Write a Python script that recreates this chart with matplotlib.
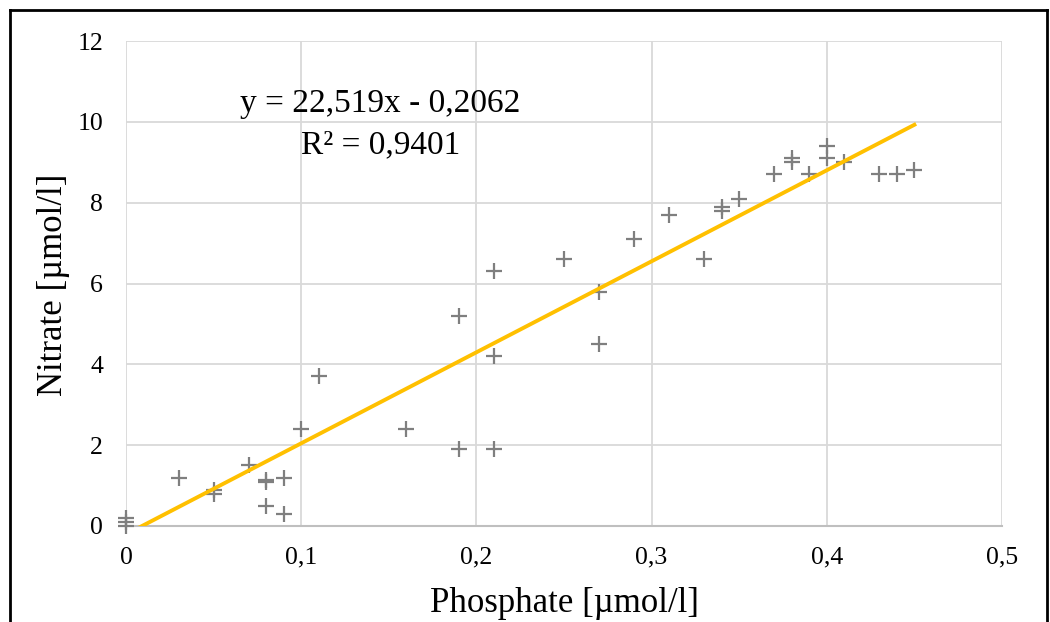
import matplotlib
matplotlib.use("Agg")
import matplotlib.pyplot as plt
from matplotlib.lines import Line2D
import numpy as np

# Data
phosphate = [0.0, 0.0, 0.0, 0.03, 0.05, 0.05, 0.07, 0.08, 0.08, 0.08, 0.09, 0.09,
             0.10, 0.11, 0.16, 0.19, 0.19, 0.21, 0.21, 0.21, 0.25, 0.27, 0.27,
             0.29, 0.31, 0.33, 0.34, 0.34, 0.35, 0.37, 0.38, 0.38, 0.39, 0.40,
             0.40, 0.41, 0.43, 0.44, 0.45]
nitrate = [0.0, 0.1, 0.2, 1.2, 0.9, 0.8, 1.5, 1.1, 1.15, 0.5, 1.2, 0.3,
           2.4, 3.7, 2.4, 5.2, 1.9, 6.3, 4.2, 1.9, 6.6, 5.8, 4.5,
           7.1, 7.7, 6.6, 7.9, 7.8, 8.1, 8.7, 9.1, 9.0, 8.7, 9.4,
           9.1, 9.0, 8.7, 8.7, 8.8]
slope = 22.519
intercept = -0.2062
r2 = 0.9401
trend_x = [0.0, 0.45]
x_ticks = [0, 0.1, 0.2, 0.3, 0.4, 0.5]
x_ticklabels = ["0", "0,1", "0,2", "0,3", "0,4", "0,5"]
y_ticks = [0, 2, 4, 6, 8, 10, 12]

plt.rcParams['font.family'] = ['Liberation Serif', 'DejaVu Serif']

fig = plt.figure(figsize=(10.5, 6.22), dpi=100)
ax = fig.add_axes([126/1050, 1 - 526/622, 876/1050, 485/622])

ax.set_xlim(0, 0.5)
ax.set_ylim(0, 12)

# grid
ax.set_axisbelow(True)
ax.grid(True, color="#d9d9d9", linewidth=1.3)
for s in ["top", "right", "left"]:
    ax.spines[s].set_visible(False)
ax.spines["bottom"].set_color("#bfbfbf")
ax.spines["bottom"].set_linewidth(1.5)
ax.spines["bottom"].set_zorder(1)

# points
ax.plot(phosphate, nitrate, linestyle="none", marker="+", markersize=11,
        markeredgewidth=1.6, color="#7f7f7f", zorder=3, clip_on=False)

# trendline
tx = np.array(trend_x)
ax.plot(tx, slope * tx + intercept, color="#ffc000", linewidth=2.8, zorder=4)

ax.set_xticks(x_ticks)
ax.set_xticklabels(x_ticklabels)
ax.set_yticks(y_ticks)
ax.tick_params(axis="both", length=0, labelsize=18.5)
ax.tick_params(axis="x", pad=15)
ax.tick_params(axis="y", pad=16.5)

ax.set_xlabel("Phosphate [µmol/l]", fontsize=25)
ax.xaxis.set_label_coords(0.501, -0.159)
ax.xaxis.label.set_va("center")
ax.set_ylabel("Nitrate [µmol/l]", fontsize=25)
ax.yaxis.set_label_coords(-0.0833, 0.497)
ax.yaxis.label.set_va("center")

fig.text(380/1050, 1 - 104/622, "y = 22,519x - 0,2062", fontsize=24,
         ha="center", va="center")
fig.text(381/1050, 1 - 145/622, "R² = 0,9401", fontsize=24,
         ha="center", va="center")

# outer frame
lw = 2
fig.add_artist(Line2D([10/1050, 10/1050], [0, 1 - 10/622], color="black", lw=lw))
fig.add_artist(Line2D([10/1050, 1047/1050], [1 - 10/622, 1 - 10/622], color="black", lw=lw))
fig.add_artist(Line2D([1047/1050, 1047/1050], [0, 1 - 10/622], color="black", lw=lw))

fig.savefig("out.png", dpi=100)
